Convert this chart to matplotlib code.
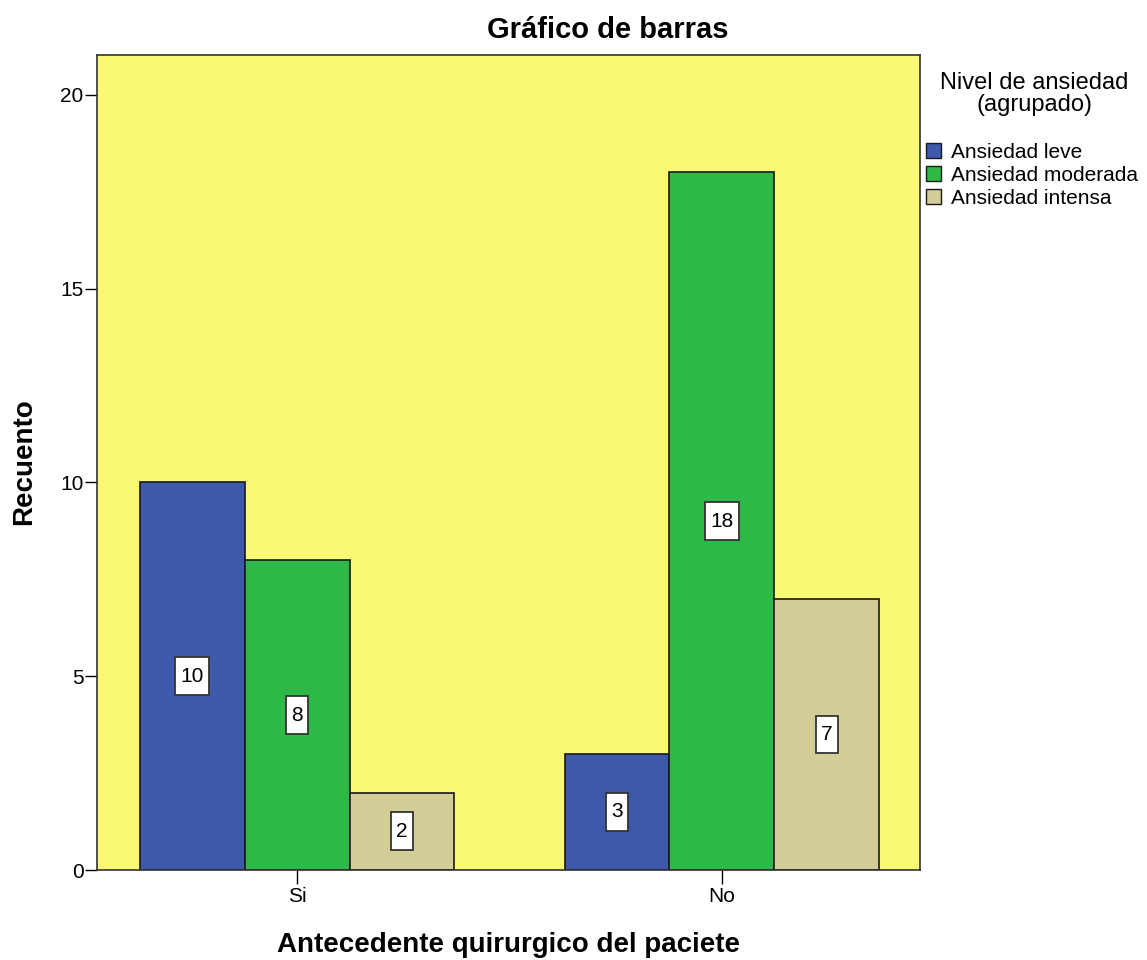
import matplotlib.pyplot as plt
from matplotlib.patches import Patch

# Data
groups = ["Si", "No"]
series = ["Ansiedad leve", "Ansiedad moderada", "Ansiedad intensa"]
counts_leve = [10, 3]
counts_moderada = [8, 18]
counts_intensa = [2, 7]
colors = ["#3E58AC", "#2EB848", "#D3CE97"]

values = [counts_leve, counts_moderada, counts_intensa]

plt.rcParams['font.family'] = ['Liberation Sans', 'DejaVu Sans']

fig = plt.figure(figsize=(11.47, 9.6), dpi=100)
ax = fig.add_axes([0.0846, 0.0937, 0.7175, 0.849])
ax.set_facecolor("#FBF873")

width = 0.247
for i, (name, vals, col) in enumerate(zip(series, values, colors)):
    xs = [g + (i - 1) * width for g in range(len(groups))]
    ax.bar(xs, vals, width=width, color=col, edgecolor="#1a1a1a", linewidth=1.2, zorder=2)
    for x, v in zip(xs, vals):
        ax.text(x, v / 2, str(v), ha="center", va="center", fontsize=15, zorder=3,
                bbox=dict(boxstyle="square,pad=0.25", fc="white", ec="#333333", lw=1.3,
                          mutation_aspect=1.8))

ax.set_xlim(-0.4706, 1.466)
ax.set_ylim(0, 21.03)
ax.set_xticks(range(len(groups)))
ax.set_xticklabels(groups, fontsize=15)
ax.set_yticks([0, 5, 10, 15, 20])
ax.tick_params(axis="y", labelsize=15, length=8.6, width=1, pad=1)
ax.tick_params(axis="x", length=10, width=1, pad=2)
for sp in ax.spines.values():
    sp.set_color("#333333")
    sp.set_linewidth(1.2)

fig.text(0.0209, 0.519, "Recuento", rotation=90, ha="center", va="center",
         fontsize=20, fontweight="bold")
fig.text(0.443, 0.0156, "Antecedente quirurgico del paciete", ha="center", va="center",
         fontsize=20, fontweight="bold")
fig.text(0.530, 0.969, "Gráfico de barras", ha="center", va="center", fontsize=21, fontweight="bold")

# Legend
fig.text(0.902, 0.902, "Nivel de ansiedad\n(agrupado)", ha="center", va="center",
         fontsize=17, multialignment="center", linespacing=1.0)
handles = [Patch(facecolor=c, edgecolor="#1a1a1a", label=s) for s, c in zip(series, colors)]
fig.legend(handles=handles, loc="upper left", bbox_to_anchor=(0.8075, 0.851),
           frameon=False, fontsize=15, handlelength=0.72, handleheight=0.72,
           handletextpad=0.45, labelspacing=0.19, borderaxespad=0.0, borderpad=0.0)

fig.savefig("out.png", dpi=100)
